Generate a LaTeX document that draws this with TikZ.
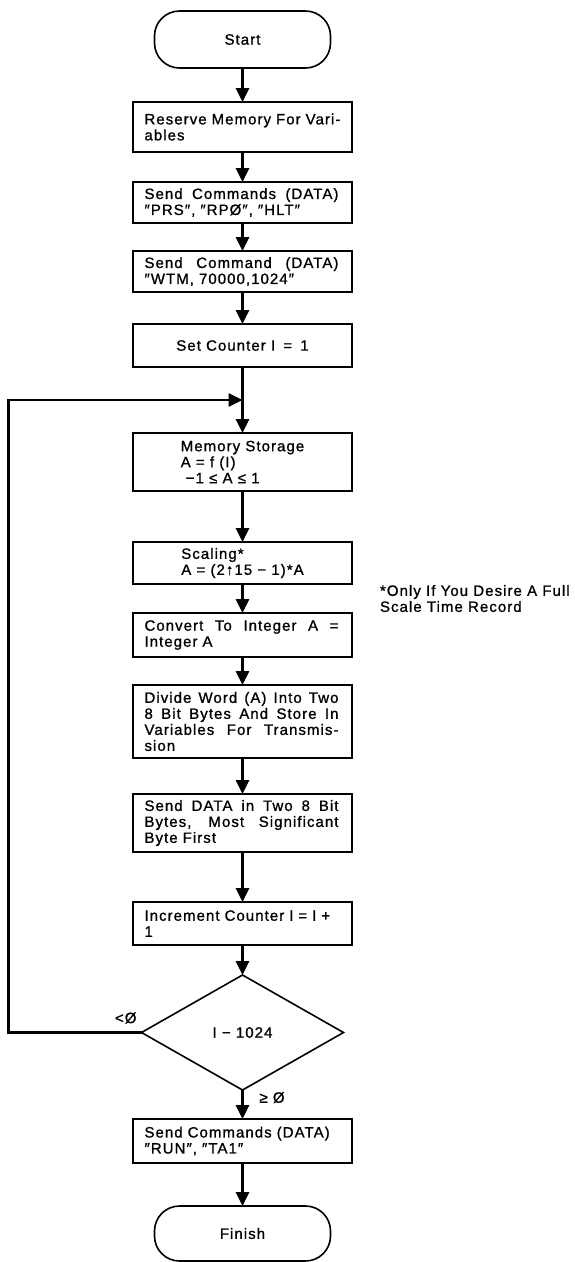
\documentclass[tikz,border=0pt]{standalone}
\usepackage{fontspec}
\setmainfont{Liberation Sans}[LetterSpace=7, FakeBold=1]
\usepackage{tikz}
\usetikzlibrary{arrows.meta,positioning,shapes.geometric,calc}
\newcommand{\spread}[1]{\makebox[194pt][s]{\spaceskip=0pt #1}}

\begin{document}
\begin{tikzpicture}[
    x=1pt, y=-1pt,
    >={Triangle[length=14pt,width=13pt]},
    every node/.style={font=\fontsize{15}{16}\selectfont, outer sep=0pt},
    box/.style={draw, rectangle, line width=1.6pt, minimum width=219pt, inner xsep=11.5pt, inner ysep=2pt},
    para/.style={box, text width=196pt, align=left},
    term/.style={draw, rectangle, rounded corners=25pt, line width=1.6pt, minimum width=176pt, minimum height=57pt},
    decide/.style={draw, diamond, line width=1.6pt, minimum width=202pt, minimum height=115pt, inner sep=0pt},
    flow/.style={->, line width=2.8pt},
    lbl/.style={inner sep=0pt}
]
\useasboundingbox (0,0) rectangle (575,1262);

% --- Main column, top to bottom ---
\node[term] (start) at (242.5,39.5) {Start};
\node[para, minimum height=50pt, below=34pt of start] (resv) {\mbox{Reserve Memory For Vari-}\\ables};
\node[para, minimum height=41pt, below=30pt of resv] (prs) {\spread{Send Commands (DATA)}\\″PRS″, ″RPØ″, ″HLT″};
\node[para, minimum height=41pt, below=28pt of prs] (wtm) {\spread{Send Command (DATA)}\\″WTM, 70000,1024″};
\node[box, minimum height=43pt, below=32pt of wtm] (setc) {Set Counter I\hspace{3pt} = \hspace{3pt}1};
\node[box, minimum height=58pt, align=left, below=66pt of setc] (mem) {Memory Storage\\A = f (I)\\\hspace{5pt}−1 ≤ A ≤ 1};
\node[box, minimum height=42pt, align=left, below=51pt of mem] (scal) {Scaling*\\A = (2↑15 − 1)*A};
\node[para, minimum height=44pt, below=29pt of scal] (conv) {\spread{Convert To Integer A =}\\Integer A};
\node[para, minimum height=73pt, below=28pt of conv] (divw) {\spread{Divide Word (A) Into Two}\\\spread{8 Bit Bytes And Store In}\\\spread{Variables For Transmis-}\\sion};
\node[para, minimum height=58pt, below=36pt of divw] (snd) {\spread{Send DATA in Two 8 Bit}\\\spread{Bytes, Most Significant}\\Byte First};
\node[para, minimum height=43pt, below=50pt of snd] (incr) {Increment Counter I = I +\\1};
\node[decide, below=30pt of incr] (chk) {I − 1024};
\node[para, minimum height=44pt, below=29pt of chk] (run) {Send Commands (DATA)\\″RUN″, ″TA1″};
\node[term, minimum height=55pt, below=43pt of run] (fin) {Finish};

% --- Footnote beside the scaling step ---
\node[lbl, align=left, below right=1pt and 28pt of scal.south east] (note) {*Only If You Desire A Full\\Scale Time Record};

% --- Forward edges ---
\draw[flow] (start) -- (resv);
\draw[flow] (resv) -- (prs);
\draw[flow] (prs) -- (wtm);
\draw[flow] (wtm) -- (setc);
\draw[flow] (setc) -- (mem);
\draw[flow] (mem) -- (scal);
\draw[flow] (scal) -- (conv);
\draw[flow] (conv) -- (divw);
\draw[flow] (divw) -- (snd);
\draw[flow] (snd) -- (incr);
\draw[flow] (incr) -- (chk);
\draw[flow] (chk) -- (run);
\draw[flow] (run) -- (fin);

% --- Loop back when I - 1024 < 0 ---
\coordinate (join) at ($(setc.south)!0.5!(mem.north)$);
\coordinate (back) at ([xshift=-133pt]chk.west);
\draw[flow] (chk.west) -- (back) |- (join);

% --- Branch labels ---
\node[lbl, above left=9pt and 5pt of chk.west] (lessz) {<Ø};
\node[lbl, below right=2pt and 17pt of chk.south] (geqz) {≥ Ø};
\end{tikzpicture}
\end{document}
